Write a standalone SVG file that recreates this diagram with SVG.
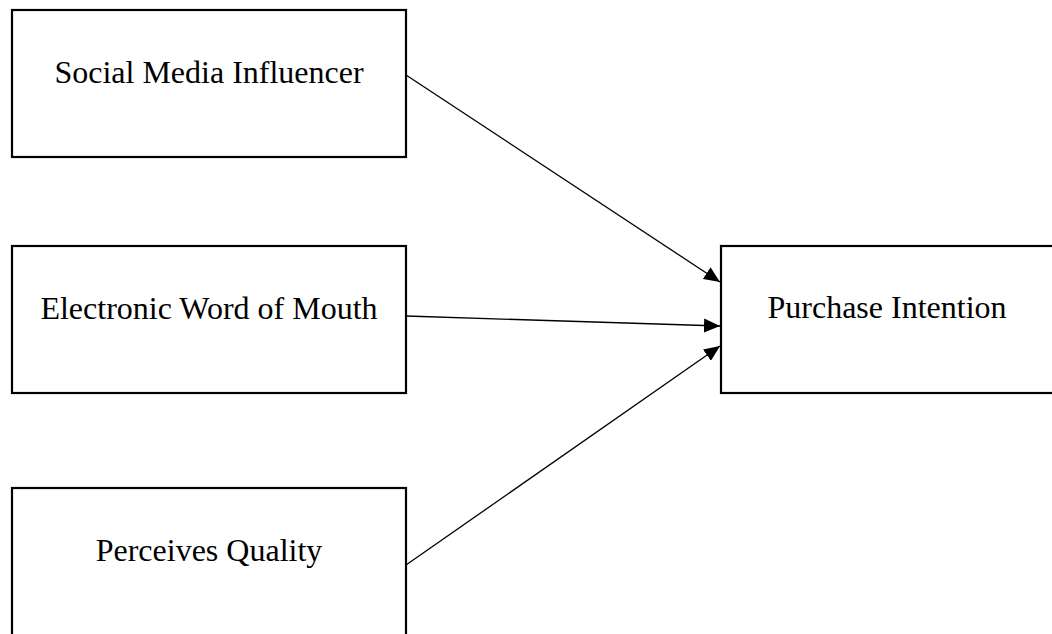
<svg xmlns="http://www.w3.org/2000/svg" width="1052" height="634" viewBox="0 0 1052 634">
<style>
.box{fill:#fff;stroke:#000;stroke-width:2.2}
.lbl{font-family:"Liberation Serif","Times New Roman",serif;font-size:32px;fill:#000;text-anchor:middle}
.edge{stroke:#000;stroke-width:1.3;fill:none;marker-end:url(#ah)}
</style>
<defs>
<marker id="ah" viewBox="0 0 16 14" refX="16" refY="7" markerWidth="16" markerHeight="14" markerUnits="userSpaceOnUse" orient="auto">
<path d="M0,0 L16,7 L0,14 Z" fill="#000"/>
</marker>
</defs>
<rect width="1052" height="634" fill="#fff"/>
<g id="smi"><rect class="box" x="12" y="10" width="394" height="147"/><text class="lbl" x="209" y="83">Social Media Influencer</text></g>
<g id="ewom"><rect class="box" x="12" y="246" width="394" height="147"/><text class="lbl" x="209" y="319">Electronic Word of Mouth</text></g>
<g id="pq"><rect class="box" x="12" y="488" width="394" height="160"/><text class="lbl" x="209" y="561">Perceives Quality</text></g>
<g id="pi"><rect class="box" x="721" y="246" width="340" height="147"/><text class="lbl" x="887" y="318">Purchase Intention</text></g>
<g id="connectors">
<line class="edge" x1="406" y1="75" x2="720" y2="282"/>
<line class="edge" x1="406" y1="316" x2="720" y2="326"/>
<line class="edge" x1="406" y1="565" x2="720" y2="346"/>
</g>
</svg>
